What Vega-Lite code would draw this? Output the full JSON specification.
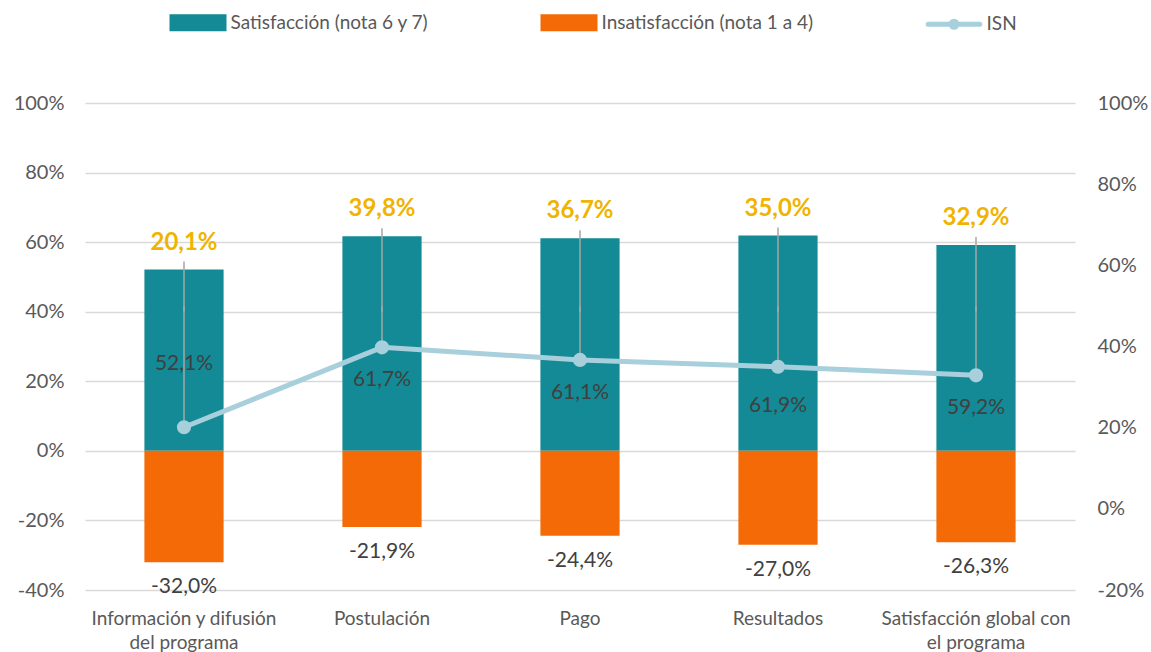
{
  "$schema": "https://vega.github.io/schema/vega-lite/v6.json",
  "width": 990,
  "height": 487,
  "autosize": {"type": "none"},
  "padding": {"left": 85, "top": 103, "right": 76, "bottom": 62},
  "data": {
    "values": [
      {"Categoria": "Información y difusión del programa", "Satisfaccion": 0.521, "Insatisfaccion": -0.320, "ISN": 0.201},
      {"Categoria": "Postulación", "Satisfaccion": 0.617, "Insatisfaccion": -0.219, "ISN": 0.398},
      {"Categoria": "Pago", "Satisfaccion": 0.611, "Insatisfaccion": -0.244, "ISN": 0.367},
      {"Categoria": "Resultados", "Satisfaccion": 0.619, "Insatisfaccion": -0.270, "ISN": 0.350},
      {"Categoria": "Satisfacción global con el programa", "Satisfaccion": 0.592, "Insatisfaccion": -0.263, "ISN": 0.329}
    ]
  },
  "encoding": {
    "x": {
      "field": "Categoria",
      "type": "nominal",
      "sort": null,
      "scale": {"paddingInner": 0.6, "paddingOuter": 0.3},
      "axis": {
        "title": null,
        "domain": false,
        "ticks": false,
        "grid": false,
        "labelAngle": 0,
        "labelPadding": 19,
        "labelFontSize": 19,
        "labelColor": "#595959",
        "labelLineHeight": 24,
        "labelLimit": 400,
        "labelExpr": "datum.label === 'Información y difusión del programa' ? ['Información y difusión', 'del programa'] : datum.label === 'Satisfacción global con el programa' ? ['Satisfacción global con', 'el programa'] : datum.label"
      }
    }
  },
  "layer": [
    {
      "layer": [
        {
          "mark": {"type": "bar"},
          "encoding": {
            "y": {
              "field": "Satisfaccion",
              "type": "quantitative",
              "title": null,
              "scale": {"domain": [-0.4, 1], "nice": false, "zero": false},
              "axis": {
                "orient": "left",
                "values": [-0.4, -0.2, 0, 0.2, 0.4, 0.6, 0.8, 1],
                "format": ".0%",
                "grid": true,
                "gridColor": "#D9D9D9",
                "gridWidth": 1.3,
                "domain": false,
                "ticks": false,
                "labelPadding": 21,
                "labelFontSize": 20,
                "labelColor": "#595959",
                "title": null
              }
            },
            "color": {
              "datum": "Satisfacción (nota 6 y 7)",
              "scale": {
                "domain": ["Satisfacción (nota 6 y 7)", "Insatisfacción (nota 1 a 4)", "ISN"],
                "range": ["#138A95", "#F46A06", "#A8CFDC"]
              },
              "legend": {
                "orient": "none",
                "legendX": 87,
                "legendY": -93,
                "direction": "horizontal",
                "columns": 3,
                "title": null,
                "padding": 0,
                "labelFontSize": 19,
                "labelColor": "#595959",
                "labelFont": "Lato",
                "labelLimit": 400,
                "symbolSize": 400,
                "symbolStrokeWidth": 5,
                "symbolOffset": 13.5,
                "labelOffset": 20,
                "columnPadding": 104,
                "encode": {
                  "symbols": {
                    "update": {
                      "shape": {"signal": "datum.value === 'ISN' ? 'M-2.58,0H2.58M0.3,0A0.3,0.3 0 1,1 -0.3,0A0.3,0.3 0 1,1 0.3,0' : 'M-2.6,-0.6H2.6V0.6H-2.6Z'"},
                      "fill": {"scale": "color", "field": "value"},
                      "stroke": {"signal": "datum.value === 'ISN' ? '#A8CFDC' : 'transparent'"},
                      "strokeCap": {"value": "round"},
                      "opacity": {"value": 1}
                    }
                  }
                }
              }
            }
          }
        },
        {
          "mark": {"type": "bar"},
          "encoding": {
            "y": {"field": "Insatisfaccion", "type": "quantitative", "title": null, "scale": {"domain": [-0.4, 1], "nice": false, "zero": false}},
            "color": {"datum": "Insatisfacción (nota 1 a 4)"}
          }
        },
        {
          "mark": {"type": "rule", "color": "#A6A6A6", "strokeWidth": 1.5, "yOffset": -8},
          "encoding": {
            "y": {"field": "Satisfaccion", "type": "quantitative", "title": null, "scale": {"domain": [-0.4, 1], "nice": false, "zero": false}},
            "y2": {"datum": 0.4}
          }
        },
        {
          "transform": [{"filter": {"field": "Categoria", "oneOf": ["Información y difusión del programa"]}}],
          "mark": {"type": "text", "fontSize": 21, "color": "#404040", "baseline": "middle"},
          "encoding": {
            "y": {"field": "Satisfaccion", "type": "quantitative", "stack": "zero", "bandPosition": 0.48, "title": null, "scale": {"domain": [-0.4, 1], "nice": false, "zero": false}},
            "text": {"field": "Satisfaccion", "type": "quantitative", "format": ".1%"}
          }
        },
        {
          "transform": [{"filter": {"field": "Categoria", "oneOf": ["Postulación"]}}],
          "mark": {"type": "text", "fontSize": 21, "color": "#404040", "baseline": "middle"},
          "encoding": {
            "y": {"field": "Satisfaccion", "type": "quantitative", "stack": "zero", "bandPosition": 0.33, "title": null, "scale": {"domain": [-0.4, 1], "nice": false, "zero": false}},
            "text": {"field": "Satisfaccion", "type": "quantitative", "format": ".1%"}
          }
        },
        {
          "transform": [{"filter": {"field": "Categoria", "oneOf": ["Pago"]}}],
          "mark": {"type": "text", "fontSize": 21, "color": "#404040", "baseline": "middle"},
          "encoding": {
            "y": {"field": "Satisfaccion", "type": "quantitative", "stack": "zero", "bandPosition": 0.27, "title": null, "scale": {"domain": [-0.4, 1], "nice": false, "zero": false}},
            "text": {"field": "Satisfaccion", "type": "quantitative", "format": ".1%"}
          }
        },
        {
          "transform": [{"filter": {"field": "Categoria", "oneOf": ["Resultados", "Satisfacción global con el programa"]}}],
          "mark": {"type": "text", "fontSize": 21, "color": "#404040", "baseline": "middle"},
          "encoding": {
            "y": {"field": "Satisfaccion", "type": "quantitative", "stack": "zero", "bandPosition": 0.21, "title": null, "scale": {"domain": [-0.4, 1], "nice": false, "zero": false}},
            "text": {"field": "Satisfaccion", "type": "quantitative", "format": ".1%"}
          }
        },
        {
          "mark": {"type": "text", "fontSize": 21, "color": "#404040", "baseline": "middle", "dy": 25},
          "encoding": {
            "y": {"field": "Insatisfaccion", "type": "quantitative", "title": null, "scale": {"domain": [-0.4, 1], "nice": false, "zero": false}},
            "text": {"field": "Insatisfaccion", "type": "quantitative", "format": ".1%"}
          }
        },
        {
          "mark": {"type": "text", "fontSize": 24, "fontWeight": "bold", "color": "#F0B400", "baseline": "middle", "dy": -27},
          "encoding": {
            "y": {"field": "Satisfaccion", "type": "quantitative", "title": null, "scale": {"domain": [-0.4, 1], "nice": false, "zero": false}},
            "text": {"field": "ISN", "type": "quantitative", "format": ".1%"}
          }
        }
      ]
    },
    {
      "layer": [
        {
          "mark": {"type": "rule", "color": "#A6A6A6", "strokeWidth": 1.5},
          "encoding": {
            "y": {
              "field": "ISN",
              "type": "quantitative",
              "title": null,
              "scale": {"domain": [-0.2, 1], "nice": false, "zero": false},
              "axis": {
                "orient": "right",
                "values": [-0.2, 0, 0.2, 0.4, 0.6, 0.8, 1],
                "format": ".0%",
                "grid": false,
                "domain": false,
                "ticks": false,
                "labelPadding": 22,
                "labelFontSize": 20,
                "labelColor": "#595959",
                "title": null
              }
            },
            "y2": {"datum": 0.5}
          }
        },
        {
          "mark": {"type": "line", "strokeWidth": 5},
          "encoding": {
            "y": {"field": "ISN", "type": "quantitative", "title": null, "scale": {"domain": [-0.2, 1], "nice": false, "zero": false}},
            "color": {"datum": "ISN"}
          }
        },
        {
          "mark": {"type": "point", "filled": true, "size": 200, "opacity": 1, "color": "#A8CFDC"},
          "encoding": {
            "y": {"field": "ISN", "type": "quantitative", "title": null, "scale": {"domain": [-0.2, 1], "nice": false, "zero": false}}
          }
        }
      ]
    }
  ],
  "resolve": {"scale": {"y": "independent"}},
  "config": {
    "font": "Lato",
    "view": {"stroke": null},
    "locale": {
      "number": {"decimal": ",", "thousands": ".", "grouping": [3], "currency": ["", " €"], "minus": "-", "percent": "%"}
    }
  }
}
